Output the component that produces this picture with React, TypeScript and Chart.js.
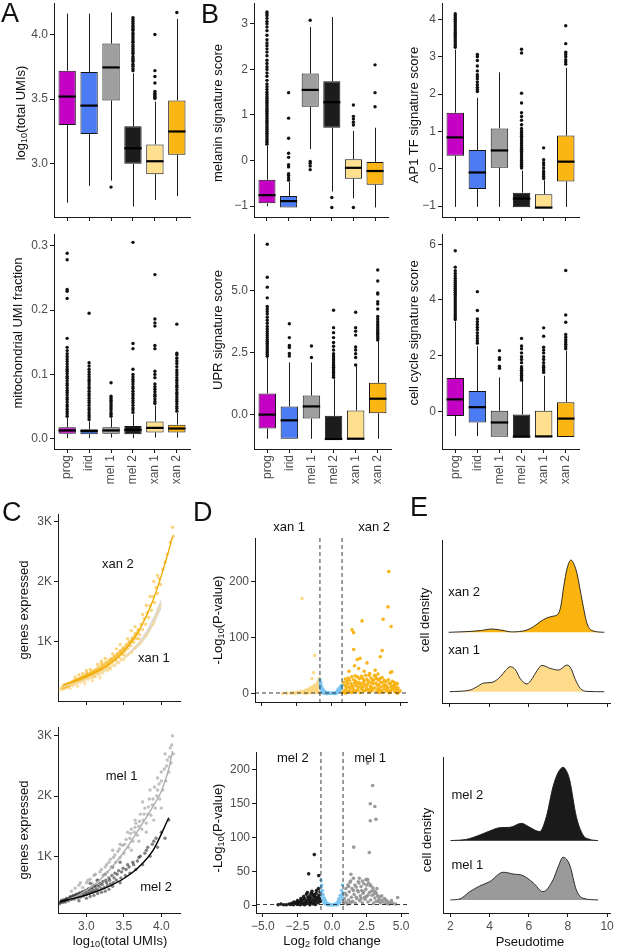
import React, { useEffect, useRef } from 'react';
import { Chart, registerables } from 'chart.js';

Chart.register(...registerables);
const FONT = '"Liberation Sans", Arial, Helvetica, sans-serif';
Chart.defaults.font.family = FONT;

// ---------------- data ----------------
const groups = ['prog', 'irid', 'mel 1', 'mel 2', 'xan 1', 'xan 2'];
const groupColors = ['#C400C4', '#4C7CF4', '#9F9F9F', '#1C1C1C', '#FFE08F', '#FCB614'];

// A: log10(total UMIs)
const umiQ1 = [3.30, 3.23, 3.49, 3.00, 2.92, 3.07];
const umiMed = [3.52, 3.45, 3.745, 3.12, 3.02, 3.25];
const umiQ3 = [3.72, 3.71, 3.93, 3.29, 3.15, 3.49];
const umiLo = [2.70, 2.83, 2.87, 2.67, 2.72, 2.75];
const umiHi = [4.16, 4.16, 4.17, 3.70, 3.48, 4.12];
const umiOut = [
  [], [], [2.82],
  [3.72, 3.735, 3.755, 3.77, 3.79, 3.80, 3.815, 3.83, 3.85, 3.86, 3.875, 3.89, 3.905, 3.92, 3.94, 3.95, 3.965, 3.98, 3.995, 4.01, 4.03, 4.04, 4.055, 4.07, 4.085, 4.10, 4.115, 4.13],
  [3.505, 3.515, 3.525, 3.535, 3.545, 3.56, 3.625, 3.675, 3.72, 4.0],
  [4.17],
];

// A: mitochondrial UMI fraction
const mitoQ1 = [0.008, 0.007, 0.008, 0.007, 0.010, 0.010];
const mitoMed = [0.013, 0.012, 0.013, 0.014, 0.017, 0.016];
const mitoQ3 = [0.018, 0.015, 0.018, 0.020, 0.027, 0.022];
const mitoLo = [0.001, 0.001, 0.002, 0.001, 0.002, 0.002];
const mitoHi = [0.033, 0.027, 0.032, 0.038, 0.052, 0.040];
const mitoOut = [
  [0.035, 0.039, 0.042, 0.046, 0.05, 0.053, 0.057, 0.061, 0.064, 0.068, 0.072, 0.075, 0.079, 0.083, 0.086, 0.09, 0.094, 0.097, 0.101, 0.105, 0.108, 0.112, 0.116, 0.12, 0.124, 0.128, 0.132, 0.137, 0.142, 0.156, 0.218, 0.229, 0.232, 0.278, 0.288],
  [0.03, 0.034, 0.037, 0.041, 0.045, 0.048, 0.052, 0.056, 0.059, 0.063, 0.067, 0.07, 0.074, 0.078, 0.081, 0.085, 0.089, 0.092, 0.096, 0.1, 0.104, 0.108, 0.113, 0.118, 0.195],
  [0.035, 0.038, 0.041, 0.045, 0.048, 0.051, 0.054, 0.057, 0.06, 0.063, 0.066, 0.087],
  [0.041, 0.045, 0.048, 0.052, 0.056, 0.059, 0.063, 0.067, 0.07, 0.074, 0.078, 0.081, 0.085, 0.089, 0.092, 0.096, 0.1, 0.108, 0.14, 0.148, 0.305],
  [0.055, 0.058, 0.062, 0.066, 0.069, 0.073, 0.077, 0.081, 0.085, 0.095, 0.1, 0.105, 0.14, 0.145, 0.175, 0.18, 0.186, 0.255],
  [0.043, 0.047, 0.05, 0.054, 0.058, 0.061, 0.065, 0.069, 0.072, 0.076, 0.08, 0.083, 0.087, 0.091, 0.095, 0.099, 0.103, 0.107, 0.112, 0.117, 0.121, 0.125, 0.13, 0.133, 0.178],
];

// B: melanin signature score
const melQ1 = [-0.94, -1.03, 1.18, 0.72, -0.40, -0.53];
const melMed = [-0.76, -0.89, 1.55, 1.28, -0.16, -0.23];
const melQ3 = [-0.42, -0.78, 1.91, 1.74, 0.03, -0.03];
const melLo = [-1.00, -1.03, 0.25, -0.68, -0.83, -1.03];
const melHi = [0.32, -0.47, 2.93, 3.15, 0.65, 0.72];
const melOut = [
  [0.36, 0.4, 0.44, 0.48, 0.52, 0.56, 0.6, 0.64, 0.68, 0.72, 0.76, 0.8, 0.84, 0.88, 0.92, 0.96, 1.0, 1.04, 1.08, 1.12, 1.16, 1.2, 1.24, 1.28, 1.32, 1.36, 1.4, 1.45, 1.5, 1.56, 1.62, 1.68, 1.76, 1.85, 1.92, 2.0, 2.06, 2.13, 2.2, 2.3, 2.38, 2.45, 2.52, 2.58, 2.65, 2.75, 2.85, 2.93, 3.0, 3.05, 3.12, 3.18, 3.22, 3.26],
  [-0.43, -0.38, -0.33, -0.29, -0.14, -0.09, 0.07, 0.16, 0.49, 0.93, 1.49],
  [-0.02, -0.06, -0.12, -0.2, 3.08],
  [-0.81, -1.03],
  [0.78, 0.84, 0.91, 0.97, 1.22, -1.03],
  [1.18, 1.49, 2.1],
];

// B: AP1 TF signature score
const ap1Q1 = [0.35, -0.54, 0.03, -1.03, -1.06, -0.34];
const ap1Med = [0.84, -0.10, 0.49, -0.80, -1.04, 0.19];
const ap1Q3 = [1.50, 0.50, 1.08, -0.64, -0.68, 0.89];
const ap1Lo = [-1.02, -1.02, -1.02, -1.03, -1.06, -1.02];
const ap1Hi = [3.19, 1.90, 2.58, -0.05, -0.31, 2.70];
const ap1Out = [
  [3.25, 3.3, 3.35, 3.4, 3.45, 3.5, 3.55, 3.6, 3.65, 3.7, 3.75, 3.8, 3.85, 3.9, 3.95, 4.0, 4.05, 4.1, 4.15],
  [2.07, 2.12, 2.18, 2.25, 2.32, 2.4, 2.46, 2.52, 2.62, 2.75, 2.9, 3.0, 3.06],
  [],
  [0.02, 0.07, 0.12, 0.17, 0.22, 0.27, 0.32, 0.37, 0.42, 0.47, 0.52, 0.57, 0.62, 0.67, 0.72, 0.77, 0.82, 0.87, 0.92, 0.97, 1.02, 1.08, 1.18, 1.3, 1.4, 1.5, 1.76, 2.02, 3.1, 3.2],
  [-0.26, -0.21, -0.16, -0.11, -0.06, 0.02, 0.1, 0.16, 0.24, 0.56],
  [2.8, 2.86, 2.92, 3.0, 3.06, 3.12, 3.35, 3.83],
];

// B: UPR signature score
const uprQ1 = [-0.56, -0.97, -0.16, -1.0, -1.0, 0.05];
const uprMed = [0.0, -0.23, 0.33, -0.98, -0.97, 0.64];
const uprQ3 = [0.85, 0.33, 0.77, -0.05, 0.17, 1.28];
const uprLo = [-0.97, -0.97, -0.97, -1.0, -1.0, -0.97];
const uprHi = [2.3, 2.1, 2.1, 1.45, 1.95, 2.95];
const uprOut = [
  [2.35, 2.42, 2.5, 2.57, 2.64, 2.72, 2.8, 2.87, 2.95, 3.02, 3.1, 3.18, 3.26, 3.35, 3.45, 3.55, 3.68, 3.8, 3.92, 4.05, 4.15, 4.25, 4.35, 4.7, 5.13, 5.53, 6.86],
  [2.36, 2.46, 2.7, 2.78, 3.1, 3.66],
  [2.3, 2.76],
  [1.5, 1.56, 1.63, 1.7, 1.77, 1.84, 1.91, 1.98, 2.05, 2.12, 2.2, 2.28, 2.36, 2.45, 2.6, 2.75, 2.9, 3.1, 3.3, 3.5, 4.2],
  [2.0, 2.3, 2.45, 2.6, 2.72, 3.2, 3.36, 3.5, 4.12],
  [3.0, 3.07, 3.14, 3.21, 3.28, 3.35, 3.42, 3.5, 3.58, 3.66, 3.75, 3.85, 3.95, 4.25, 4.45, 4.55, 4.85, 4.9, 5.38, 5.82],
];

// B: cell cycle signature score
const ccQ1 = [-0.17, -0.40, -0.91, -0.92, -0.92, -0.92];
const ccMed = [0.43, 0.15, -0.40, -0.91, -0.90, -0.26];
const ccQ3 = [1.20, 0.73, 0.02, -0.11, 0.02, 0.33];
const ccLo = [-0.89, -0.89, -0.91, -0.92, -0.92, -0.92];
const ccHi = [3.23, 2.34, 1.22, 1.10, 1.28, 2.17];
const ccOut = [
  [3.3, 3.37, 3.44, 3.51, 3.58, 3.65, 3.72, 3.79, 3.86, 3.93, 4.0, 4.07, 4.14, 4.21, 4.28, 4.35, 4.42, 4.49, 4.56, 4.63, 4.7, 4.78, 4.86, 4.95, 5.05, 5.18, 5.77],
  [2.45, 2.53, 2.62, 2.72, 2.82, 2.93, 3.02, 3.12, 3.22, 3.32, 3.62, 4.3],
  [1.55, 1.62, 1.86, 1.93, 2.18],
  [1.12, 1.18, 1.24, 1.3, 1.36, 1.42, 1.48, 1.54, 1.6, 1.75, 1.86, 1.96, 2.1, 2.25, 2.35, 2.62],
  [1.4, 1.46, 1.52, 1.58, 1.64, 1.75, 1.86, 1.96, 2.1, 2.2, 2.3, 2.7, 3.0],
  [2.25, 2.33, 2.41, 2.49, 2.57, 2.66, 2.76, 3.2, 3.46, 5.06],
];

// C: genes expressed vs log10(total UMIs)
const xan2Cells = [[2.68,230],[2.70,260],[2.72,290],[2.74,250],[2.76,310],[2.78,280],[2.80,330],[2.81,300],[2.83,350],[2.85,320],[2.86,370],[2.88,340],[2.90,390],[2.91,360],[2.93,410],[2.95,380],[2.96,430],[2.98,400],[3.00,450],[3.01,420],[3.03,470],[3.05,440],[3.06,500],[3.08,460],[3.10,520],[3.11,480],[3.13,540],[3.15,500],[3.16,570],[3.18,530],[3.20,600],[3.21,550],[3.23,630],[3.25,580],[3.26,660],[3.28,610],[3.30,690],[3.31,640],[3.33,720],[3.35,670],[3.37,760],[3.39,700],[3.41,800],[3.43,740],[3.45,850],[3.47,790],[3.49,900],[3.51,840],[3.53,950],[3.55,880],[3.57,1000],[3.59,930],[3.61,1060],[3.63,990],[3.65,1130],[3.67,1050],[3.69,1200],[3.71,1120],[3.73,1290],[3.75,1200],[3.77,1380],[3.79,1290],[3.81,1480],[3.83,1400],[3.85,1600],[3.87,1520],[3.89,1750],[3.91,1650],[3.93,1900],[3.95,1800],[3.97,2050],[3.99,1950],[4.02,2200],[4.05,2320],[4.08,2450],[4.12,2650],[4.15,2900],[4.16,2750],[3.0,520],[3.2,680],[3.4,880],[3.6,1180],[3.8,1600],[3.9,2000],[3.95,2100],[3.1,420],[3.3,560],[3.5,780],[3.7,1050],[2.9,450],[3.35,800],[3.55,1050],[3.75,1450],[2.71,240],[2.73,275],[2.75,265],[2.77,295],[2.79,305],[2.82,315],[2.84,335],[2.87,355],[2.89,365],[2.92,375],[2.94,395],[2.97,415],[2.99,435],[3.02,445],[3.04,455],[3.07,485],[3.09,495],[3.12,505],[3.14,525],[3.17,545],[3.19,565],[3.22,585],[3.24,605],[3.27,635],[3.29,655],[3.32,685],[3.34,705],[3.36,725],[3.38,745],[3.40,765],[3.42,790],[3.44,815],[3.46,835],[3.48,860],[3.50,880],[3.52,905],[3.54,930],[3.56,960],[3.58,985],[3.60,1020],[3.62,1040],[3.64,1080],[3.66,1110],[3.68,1150],[3.70,1180],[2.95,470],[3.05,540],[3.15,620],[3.25,720],[3.45,950],[3.65,1250],[3.85,1750],[2.85,410],[3.0,480],[3.2,640]];
const xan1Cells = [[2.65,200],[2.67,240],[2.69,210],[2.70,280],[2.72,230],[2.74,260],[2.75,300],[2.77,250],[2.79,290],[2.80,320],[2.82,270],[2.84,310],[2.85,350],[2.87,300],[2.89,340],[2.90,370],[2.92,320],[2.94,360],[2.95,400],[2.97,340],[2.99,390],[3.00,420],[3.02,370],[3.04,410],[3.05,450],[3.07,400],[3.09,440],[3.10,480],[3.12,420],[3.14,470],[3.15,510],[3.17,450],[3.19,500],[3.20,540],[3.22,480],[3.24,530],[3.26,570],[3.28,520],[3.30,600],[3.32,550],[3.35,620],[3.38,600],[3.40,680],[3.43,650],[3.46,720],[3.50,700],[3.55,780],[3.60,820],[3.65,900],[3.72,980],[3.80,1100],[3.90,1300],[2.78,220],[2.88,260],[2.98,300],[3.08,350],[3.18,400]];
const mel2Cells = [[2.64,210],[2.66,250],[2.68,230],[2.70,280],[2.72,240],[2.74,300],[2.76,260],[2.78,320],[2.80,280],[2.82,340],[2.84,290],[2.86,360],[2.88,310],[2.90,380],[2.92,320],[2.94,400],[2.96,340],[2.98,420],[3.00,360],[3.02,450],[3.04,380],[3.06,470],[3.08,400],[3.10,500],[3.12,420],[3.14,520],[3.16,440],[3.18,550],[3.20,460],[3.22,580],[3.24,480],[3.26,600],[3.28,510],[3.30,640],[3.32,540],[3.34,680],[3.36,560],[3.38,720],[3.40,600],[3.43,760],[3.46,640],[3.49,800],[3.52,680],[3.55,860],[3.58,720],[3.62,900],[3.66,780],[3.70,980],[3.75,860],[3.80,1100],[3.85,1000],[3.90,1250],[3.95,1150],[4.00,1400],[4.05,1300],[4.10,1600],[3.00,300],[3.10,350],[3.20,400],[3.30,450],[2.90,260],[3.05,330],[3.15,380],[3.25,420],[3.35,500],[3.45,560],[3.15,600],[3.25,700],[3.35,820],[3.45,900],[3.05,550],[2.65,230],[2.67,270],[2.69,250],[2.71,260],[2.73,290],[2.75,280],[2.77,300],[2.79,330],[2.81,310],[2.83,350],[2.85,330],[2.87,370],[2.89,350],[2.91,390],[2.93,370],[2.95,410],[2.97,380],[2.99,430],[3.01,400],[3.03,460],[3.05,420],[3.07,480],[3.09,440],[3.11,510],[3.13,460],[3.17,500],[3.21,530],[3.27,560],[3.31,600],[3.37,640],[3.41,700],[3.47,740],[3.53,780],[3.57,820],[3.63,860],[3.68,920],[3.72,1000],[3.78,1050],[3.82,1150],[3.88,1200],[3.93,1300]];
const mel1Cells = [[2.80,420],[2.85,470],[2.90,520],[2.95,480],[3.00,560],[3.05,620],[3.08,540],[3.10,680],[3.14,600],[3.18,740],[3.22,680],[3.25,820],[3.28,740],[3.30,900],[3.33,820],[3.36,980],[3.39,900],[3.42,1080],[3.45,980],[3.48,1180],[3.50,1050],[3.53,1280],[3.56,1150],[3.59,1380],[3.62,1250],[3.65,1480],[3.68,1350],[3.71,1580],[3.74,1450],[3.77,1700],[3.80,1550],[3.83,1820],[3.86,1680],[3.89,1950],[3.92,1800],[3.95,2100],[3.98,1950],[4.00,2250],[4.02,2100],[4.04,2450],[4.06,2250],[4.08,2600],[4.10,2400],[4.12,2800],[4.13,2550],[4.15,3000],[4.16,2700],[3.60,1100],[3.70,1250],[3.80,1400],[3.90,1600],[4.00,1800],[3.75,1900],[3.85,2100],[3.95,2300],[4.05,2700],[3.55,1400],[3.65,1600],[3.45,1200],[3.35,1100],[2.92,560],[3.02,600],[3.12,700],[3.2,780],[3.27,860],[3.32,950],[3.38,1020],[3.44,1120],[3.51,1200],[3.58,1300],[3.64,1400],[3.7,1500],[3.76,1600],[3.82,1700],[3.88,1850],[3.94,2000],[4.0,2400],[4.07,2500],[4.11,2650],[4.14,2850],[3.97,2200],[3.91,2150],[3.84,1950],[3.78,1800],[3.72,1700],[3.66,1550],[3.6,1450]];
const xan2FitX = [2.68, 2.9, 3.1, 3.3, 3.5, 3.7, 3.9, 4.05, 4.15];
const xan2FitY = [270, 380, 480, 620, 840, 1180, 1720, 2300, 2740];
const xan1FitX = [2.68, 2.9, 3.1, 3.3, 3.5, 3.7, 3.85, 4.0];
const xan1FitY = [250, 330, 430, 560, 720, 950, 1200, 1620];
const xan1BandX = [3.5, 3.6, 3.7, 3.8, 3.9, 4.0];
const xan1BandLo = [700, 810, 920, 1070, 1280, 1540];
const xan1BandHi = [740, 870, 1000, 1180, 1420, 1720];
const mel1FitX = [2.75, 2.9, 3.1, 3.3, 3.5, 3.7, 3.9, 4.0, 4.1, 4.15];
const mel1FitY = [280, 360, 520, 760, 1070, 1450, 1850, 2080, 2450, 2750];
const mel2FitX = [2.65, 2.9, 3.1, 3.3, 3.5, 3.7, 3.9, 4.1];
const mel2FitY = [250, 320, 400, 500, 630, 820, 1120, 1640];

// D: volcano plots (log2 fold change, -log10 P)
const dTopLeft = [[-2.9,1],[-2.7,2],[-2.5,1.5],[-2.4,3],[-2.3,2],[-2.2,4],[-2.1,2.5],[-2.0,3.5],[-1.9,5],[-1.85,2],[-1.8,6],[-1.7,4],[-1.65,8],[-1.6,3],[-1.55,6],[-1.5,10],[-1.45,5],[-1.4,7],[-1.35,12],[-1.3,4],[-1.25,9],[-1.2,15],[-1.15,6],[-1.1,11],[-1.05,8],[-1.0,18],[-0.98,5],[-0.95,13],[-0.92,22],[-0.9,9],[-0.88,16],[-0.86,27],[-0.85,3],[-1.38,27],[-1.26,37.5],[-1.18,68],[-2.1,170],[-3.2,1],[-3.5,0.5],[-2.6,0.5],[-1.95,1],[-1.75,1],[-1.5,1.5],[-1.2,2],[-1.0,2]];
const dTopMid = [[-0.8,25],[-0.78,18],[-0.76,12],[-0.74,20],[-0.72,8],[-0.7,14],[-0.67,5],[-0.64,10],[-0.6,3],[-0.56,7],[-0.52,2],[-0.48,4],[-0.44,1.5],[-0.4,3],[-0.35,1],[-0.3,2],[-0.25,0.5],[-0.2,1.5],[-0.15,0.5],[-0.1,1],[0,0.5],[0.1,1],[0.2,0.5],[0.3,2],[0.4,1],[0.45,4],[0.5,7],[0.55,3],[0.6,10],[0.65,6],[0.7,13],[0.75,9],[0.78,15],[-0.3,0.2],[0.25,0.2],[-0.55,1],[0.35,0.5]];
const dTopRight = [[0.85,2],[0.95,5],[1.05,1],[1.1,8],[1.2,3],[1.3,12],[1.35,5],[1.45,18],[1.5,2],[1.6,9],[1.65,25],[1.75,4],[1.8,14],[1.9,30],[1.95,7],[2.05,20],[2.1,2],[2.2,11],[2.3,27],[2.35,5],[2.45,16],[2.5,33],[2.6,8],[2.7,22],[2.75,3],[2.85,13],[2.9,28],[3.0,6],[3.05,18],[3.15,10],[3.2,31],[3.3,4],[3.35,15],[3.45,24],[3.5,7],[3.6,12],[3.7,20],[3.75,3],[3.85,9],[3.9,16],[4.0,5],[4.1,11],[4.2,19],[4.3,3],[4.4,8],[4.5,14],[4.6,4],[4.75,7],[4.9,3],[1.0,15],[1.15,22],[1.25,28],[1.4,10],[1.55,14],[1.7,19],[1.85,6],[2.0,12],[2.15,17],[2.25,8],[2.4,23],[2.55,12],[2.65,17],[2.8,8],[2.95,11],[3.1,25],[3.25,19],[3.4,9],[3.55,27],[3.65,5],[3.8,14],[3.95,22],[4.05,9],[4.25,6],[4.35,13],[4.55,9],[4.7,12],[1.52,114],[1.64,109],[1.64,79],[1.7,50],[1.9,61],[2.1,63],[2.25,130],[2.0,45],[2.4,40],[2.6,55],[3.2,42],[3.57,66],[3.7,77],[3.77,133],[4.13,155],[4.18,218],[4.35,120],[4.4,39],[4.3,38],[3.4,35],[2.8,36],[1.3,40],[4.6,20],[4.8,18],[0.9,20],[1.05,26],[1.2,18],[1.35,24],[1.5,30],[1.6,4],[1.75,32],[1.9,18],[2.05,27],[2.2,31],[2.35,20],[2.5,6],[2.6,26],[2.75,33],[2.9,19],[3.0,24],[3.15,33],[3.3,27],[3.45,16],[3.6,20],[3.7,29],[3.85,24],[4.0,14],[4.15,25],[4.3,18],[4.45,22],[4.6,15],[4.85,10],[5.0,5],[1.1,12],[1.8,22],[2.3,13],[2.9,5],[3.5,2],[4.2,2],[4.8,1]];
const dBotLeft = [[-3.9,1],[-3.7,2],[-3.3,1],[-3.1,2],[-3.0,1.5],[-2.9,3],[-2.8,1],[-2.7,2.5],[-2.6,4],[-2.5,1.5],[-2.45,5],[-2.4,3],[-2.3,6],[-2.2,2],[-2.15,8],[-2.1,4],[-2.0,10],[-1.95,3],[-1.9,7],[-1.85,16.5],[-1.8,5],[-1.75,12],[-1.7,9],[-1.65,3],[-1.6,14],[-1.55,6],[-1.5,11],[-1.45,4],[-1.4,16],[-1.35,8],[-1.3,13],[-1.25,5],[-1.2,10],[-1.15,18],[-1.1,7],[-1.05,12],[-1.0,4],[-0.95,15],[-0.9,9],[-0.87,20],[-0.85,6],[-1.28,75],[-1.69,46.6],[-0.96,44],[-1.3,16],[-1.5,18],[-2.3,1],[-2.0,1],[-1.2,1.5],[-3.5,1],[-2.75,5],[-2.5,7],[-2.25,10],[-2.05,13],[-1.9,2],[-1.78,19],[-1.62,8],[-1.45,21],[-1.25,14],[-1.12,22],[-0.98,25],[-0.92,11],[-1.35,2],[-1.6,1]];
const dBotMid = [[-0.8,37],[-0.78,28],[-0.76,20],[-0.74,30],[-0.72,14],[-0.7,22],[-0.67,9],[-0.64,16],[-0.6,5],[-0.56,11],[-0.52,3],[-0.48,7],[-0.44,2],[-0.4,4],[-0.35,1],[-0.3,2.5],[-0.25,0.5],[-0.2,1.5],[-0.1,0.5],[0,1],[0.1,0.5],[0.2,1.5],[0.3,0.5],[0.35,3],[0.4,1],[0.45,6],[0.5,10],[0.55,4],[0.6,15],[0.65,8],[0.7,22],[0.73,12],[0.76,30],[0.78,18]];
const dBotRight = [[0.85,3],[0.9,10],[1.0,5],[1.05,15],[1.1,2],[1.2,8],[1.25,20],[1.3,4],[1.4,12],[1.45,25],[1.5,6],[1.6,16],[1.65,30],[1.7,3],[1.8,10],[1.85,22],[1.9,35],[2.0,7],[2.05,14],[2.1,28],[2.2,4],[2.25,18],[2.3,32],[2.4,9],[2.45,24],[2.5,13],[2.55,38],[2.6,5],[2.7,19],[2.75,29],[2.8,8],[2.9,15],[2.95,26],[3.0,3],[3.1,11],[3.15,20],[3.2,6],[3.3,14],[3.4,9],[3.45,12.6],[3.5,4],[3.6,8],[3.7,5],[3.8,10],[3.9,3],[4.0,6],[4.2,4],[4.4,3],[4.75,11.7],[4.6,2],[1.0,25],[1.15,30],[1.35,36],[1.55,40],[1.75,27],[1.95,33],[2.15,22],[2.35,12],[2.65,33],[2.85,21],[3.05,17],[3.25,25],[1.37,46],[1.98,40],[2.46,38],[2.58,38],[1.57,86],[2.7,78],[2.77,125],[3.18,127],[2.77,150],[3.1,146],[2.94,177],[2.58,210],[0.95,18],[1.2,28],[1.4,5],[1.55,22],[1.75,12],[1.9,20],[2.1,10],[2.3,20],[2.5,30],[2.6,15],[2.8,30],[3.0,22],[3.2,18],[3.35,6],[3.6,14],[3.9,8],[4.1,2],[4.3,7],[1.3,34],[2.2,36]];

// E: pseudotime densities
const xan2DensX = [1.95, 2.88, 3.56, 4.15, 4.66, 5.17, 5.93, 6.27, 6.61, 6.95, 7.29, 7.5, 7.65, 7.8, 7.97, 8.17, 8.34, 8.47, 8.73, 8.98, 9.24, 9.86];
const xan2DensH = [0, 0.012, 0.029, 0.056, 0.034, 0.007, 0.039, 0.096, 0.18, 0.244, 0.274, 0.303, 0.438, 0.774, 1.077, 1.217, 1.128, 0.993, 0.539, 0.152, 0.029, 0];
const xan1DensX = [2.0, 3.05, 3.47, 3.73, 4.15, 4.58, 4.83, 5.08, 5.34, 5.59, 5.93, 6.19, 6.44, 6.69, 7.12, 7.54, 7.97, 8.17, 8.39, 8.64, 8.98, 9.86];
const xan1DensH = [0, 0.029, 0.101, 0.146, 0.157, 0.253, 0.354, 0.421, 0.37, 0.219, 0.13, 0.219, 0.354, 0.443, 0.392, 0.365, 0.449, 0.387, 0.202, 0.056, 0.005, 0];
const mel2DensX = [2.0, 2.82, 3.5, 4.01, 4.52, 5.03, 5.63, 6.05, 6.56, 6.9, 7.24, 7.5, 7.75, 7.92, 8.09, 8.43, 8.77, 9.11, 9.54];
const mel2DensH = [0, 0.022, 0.096, 0.164, 0.219, 0.224, 0.292, 0.224, 0.152, 0.405, 0.911, 1.147, 1.236, 1.18, 1.024, 0.405, 0.096, 0.022, 0];
const mel1DensX = [2.0, 2.48, 2.99, 3.5, 4.01, 4.69, 5.2, 5.71, 6.22, 6.73, 7.24, 7.5, 7.75, 8.09, 8.43, 8.77, 9.54];
const mel1DensH = [0, 0.017, 0.14, 0.236, 0.309, 0.467, 0.438, 0.41, 0.292, 0.14, 0.337, 0.556, 0.72, 0.59, 0.169, 0.029, 0];

// tick values
const umiTicks = [3.0, 3.5, 4.0];
const mitoTicks = [0, 0.1, 0.2, 0.3];
const melTicks = [-1, 0, 1, 2, 3];
const ap1Ticks = [-1, 0, 1, 2, 3, 4];
const uprTicks = [0, 2.5, 5];
const ccTicks = [0, 2, 4, 6];
const genesTicks = [1000, 2000, 3000];
const umiXTicks = [3.0, 3.5, 4.0];
const volcTopYTicks = [0, 100, 200];
const volcBotYTicks = [0, 50, 100, 150, 200];
const foldTicks = [-5, -2.5, 0, 2.5, 5];
const pseudoTicks = [2, 4, 6, 8, 10];

// ---------------- helpers ----------------
const TICK_FONT = { family: FONT, size: 12 };
const TICK_COLOR = '#4d4d4d';
const AXIS_COLOR = '#1a1a1a';
const minus = (s: string) => s.replace('-', '\u2212');
const fmt1 = (v: number) => minus(v.toFixed(1));
const fmt0 = (v: number) => minus(String(Math.round(v)));
const none = (_v: number) => '';

type AxisOpts = { min: number; max: number; ticks: number[]; fmt: (v: number) => string; size: number; horizontal: boolean; rotate?: boolean; marks?: boolean };

function linAxis(o: AxisOpts): any {
  return {
    type: 'linear', min: o.min, max: o.max, offset: false,
    afterBuildTicks: (s: any) => { s.ticks = o.ticks.map((v) => ({ value: v })); },
    afterFit: (s: any) => {
      if (o.horizontal) s.height = o.size; else s.width = o.size;
      s.paddingLeft = 0; s.paddingRight = 0; s.paddingTop = 0; s.paddingBottom = 0;
    },
    ticks: {
      autoSkip: false, font: TICK_FONT, color: TICK_COLOR, padding: 2,
      display: o.ticks.length > 0,
      callback: (v: any) => o.fmt(Number(v)),
      minRotation: o.rotate ? 90 : 0, maxRotation: o.rotate ? 90 : 0,
    },
    grid: { display: true, offset: false, drawOnChartArea: false, drawTicks: o.marks !== false, tickLength: 4, tickColor: AXIS_COLOR, tickWidth: 1 },
    border: { display: true, color: AXIS_COLOR, width: 1 },
  };
}

const baseOptions = () => ({
  responsive: false, animation: false, devicePixelRatio: 1, events: [] as any[],
  plugins: { legend: { display: false }, tooltip: { enabled: false }, title: { display: false } },
});

type Lbl = { x: number; y: number; text: string; align?: CanvasTextAlign };
function textPlugin(items: Lbl[]) {
  return {
    id: 'labels',
    afterDraw(chart: any) {
      const { ctx, scales } = chart;
      ctx.save();
      ctx.font = `13px ${FONT}`;
      ctx.fillStyle = '#111';
      ctx.textBaseline = 'middle';
      for (const it of items) {
        ctx.textAlign = it.align || 'center';
        ctx.fillText(it.text, scales.x.getPixelForValue(it.x), scales.y.getPixelForValue(it.y));
      }
      ctx.restore();
    },
  };
}

type BoxStats = { q1: number[]; med: number[]; q3: number[]; lo: number[]; hi: number[]; out: number[][] };

function boxPlugin(s: BoxStats) {
  return {
    id: 'boxExtras',
    beforeDatasetsDraw(chart: any) {
      const { ctx, scales: { x, y } } = chart;
      ctx.save();
      ctx.strokeStyle = '#1a1a1a';
      ctx.lineWidth = 1;
      s.q1.forEach((_, i) => {
        const px = Math.round(x.getPixelForValue(i + 1)) + 0.5;
        ctx.beginPath();
        ctx.moveTo(px, y.getPixelForValue(s.lo[i]));
        ctx.lineTo(px, y.getPixelForValue(s.q1[i]));
        ctx.moveTo(px, y.getPixelForValue(s.q3[i]));
        ctx.lineTo(px, y.getPixelForValue(s.hi[i]));
        ctx.stroke();
      });
      ctx.restore();
    },
    afterDatasetsDraw(chart: any) {
      const { ctx, scales: { y } } = chart;
      const meta = chart.getDatasetMeta(0);
      ctx.save();
      ctx.strokeStyle = '#000';
      ctx.lineWidth = 2.2;
      s.med.forEach((m, i) => {
        const el = meta.data[i];
        const py = y.getPixelForValue(m);
        ctx.beginPath();
        ctx.moveTo(el.x - el.width / 2, py);
        ctx.lineTo(el.x + el.width / 2, py);
        ctx.stroke();
      });
      ctx.restore();
    },
  };
}

function boxConfig(s: BoxStats, yMin: number, yMax: number, yTicks: number[], yFmt: (v: number) => string, yw: number, showX: boolean, xh: number) {
  const outliers: { x: number; y: number }[] = [];
  s.out.forEach((arr, i) => arr.forEach((v) => outliers.push({ x: i + 1, y: v })));
  return {
    type: 'bar',
    data: {
      datasets: [
        {
          type: 'bar', order: 1,
          data: groups.map((_, i) => ({ x: i + 1, y: [s.q1[i], s.q3[i]] })),
          backgroundColor: groupColors, borderColor: '#141414', borderWidth: 1, borderSkipped: false,
          barPercentage: 0.79, categoryPercentage: 1,
        },
        {
          type: 'scatter', order: 0, data: outliers,
          pointRadius: 1.7, pointBackgroundColor: '#111', pointBorderWidth: 0, showLine: false,
        },
      ],
    },
    options: {
      ...baseOptions(),
      scales: {
        x: linAxis({ min: 0.4, max: 6.6, ticks: [1, 2, 3, 4, 5, 6], fmt: showX ? (v) => groups[v - 1] : none, size: xh, horizontal: true, rotate: showX }),
        y: linAxis({ min: yMin, max: yMax, ticks: yTicks, fmt: yFmt, size: yw, horizontal: false }),
      },
    },
    plugins: [boxPlugin(s)],
  };
}

const pts = (arr: number[][]) => arr.map(([x, y]) => ({ x, y }));
const xy = (xs: number[], ys: number[]) => xs.map((x, i) => ({ x, y: ys[i] }));

function cConfig(top: boolean) {
  const kfmt = (v: number) => `${Math.round(v / 1000)}K`;
  const datasets: any[] = top
    ? [
        { type: 'line', order: 9, data: xy(xan1BandX, xan1BandHi), borderWidth: 0, pointRadius: 0, fill: '+1', backgroundColor: 'rgba(185,185,185,0.55)' },
        { type: 'line', order: 9, data: xy(xan1BandX, xan1BandLo), borderWidth: 0, pointRadius: 0, fill: false },
        { type: 'scatter', order: 6, data: pts(xan1Cells), pointRadius: 1.7, pointBorderWidth: 0, pointBackgroundColor: 'rgba(252,212,128,0.7)' },
        { type: 'scatter', order: 5, data: pts(xan2Cells), pointRadius: 1.7, pointBorderWidth: 0, pointBackgroundColor: 'rgba(245,176,20,0.55)' },
        { type: 'line', order: 1, data: xy(xan1FitX, xan1FitY), borderColor: '#F1D9A0', borderWidth: 1.4, pointRadius: 0, cubicInterpolationMode: 'monotone', fill: false },
        { type: 'line', order: 0, data: xy(xan2FitX, xan2FitY), borderColor: '#F0AC00', borderWidth: 1.4, pointRadius: 0, cubicInterpolationMode: 'monotone', fill: false },
      ]
    : [
        { type: 'scatter', order: 6, data: pts(mel1Cells), pointRadius: 1.7, pointBorderWidth: 0, pointBackgroundColor: 'rgba(150,150,150,0.6)' },
        { type: 'scatter', order: 5, data: pts(mel2Cells), pointRadius: 1.7, pointBorderWidth: 0, pointBackgroundColor: 'rgba(30,30,30,0.55)' },
        { type: 'line', order: 1, data: xy(mel1FitX, mel1FitY), borderColor: '#B0B0B0', borderWidth: 1.4, pointRadius: 0, cubicInterpolationMode: 'monotone', fill: false },
        { type: 'line', order: 0, data: xy(mel2FitX, mel2FitY), borderColor: '#000', borderWidth: 1.4, pointRadius: 0, cubicInterpolationMode: 'monotone', fill: false },
      ];
  const labels: Lbl[] = top
    ? [{ x: 3.42, y: 2280, text: 'xan 2' }, { x: 3.9, y: 720, text: 'xan 1' }]
    : [{ x: 3.47, y: 2325, text: 'mel 1' }, { x: 3.93, y: 490, text: 'mel 2' }];
  return {
    type: 'scatter',
    data: { datasets },
    options: {
      ...baseOptions(),
      scales: {
        x: linAxis({ min: 2.62, max: 4.25, ticks: umiXTicks, fmt: top ? none : fmt1, size: top ? 5 : 22, horizontal: true }),
        y: linAxis({ min: top ? 14 : 57, max: top ? 3120 : 3147, ticks: genesTicks, fmt: kfmt, size: 30, horizontal: false }),
      },
    },
    plugins: [textPlugin(labels)],
  };
}

function dashPlugin() {
  return {
    id: 'dash',
    afterDatasetsDraw(chart: any) {
      const { ctx, chartArea: a, scales: { x, y } } = chart;
      ctx.save();
      ctx.strokeStyle = '#222';
      ctx.lineWidth = 0.9;
      ctx.setLineDash([4, 3]);
      ctx.beginPath();
      for (const v of [-0.8, 0.8]) {
        const px = x.getPixelForValue(v);
        ctx.moveTo(px, a.top);
        ctx.lineTo(px, a.bottom);
      }
      const py = y.getPixelForValue(1.3);
      ctx.moveTo(a.left, py);
      ctx.lineTo(a.right, py);
      ctx.stroke();
      ctx.restore();
    },
  };
}

function dConfig(top: boolean) {
  const mk = (data: number[][], color: string, order: number) => ({ type: 'scatter', order, data: pts(data), pointRadius: 1.8, pointBorderWidth: 0, pointBackgroundColor: color });
  const datasets = top
    ? [mk(dTopLeft, 'rgba(252,214,128,0.9)', 2), mk(dTopMid, 'rgba(120,196,240,0.95)', 1), mk(dTopRight, 'rgba(248,178,16,0.95)', 3)]
    : [mk(dBotLeft, 'rgba(20,20,20,0.95)', 2), mk(dBotMid, 'rgba(120,196,240,0.95)', 1), mk(dBotRight, 'rgba(150,150,150,0.95)', 3)];
  const labels: Lbl[] = top
    ? [{ x: -3.03, y: 296, text: 'xan 1' }, { x: 3.12, y: 296, text: 'xan 2' }]
    : [{ x: -2.83, y: 216.6, text: 'mel 2' }, { x: 2.76, y: 216.6, text: 'mel 1' }];
  return {
    type: 'scatter',
    data: { datasets },
    options: {
      ...baseOptions(),
      scales: {
        x: linAxis({ min: -5.5, max: 5.5, ticks: foldTicks, fmt: top ? none : fmt1, size: top ? 5 : 22, horizontal: true }),
        y: top
          ? linAxis({ min: -14.8, max: 278, ticks: volcTopYTicks, fmt: fmt0, size: 30, horizontal: false })
          : linAxis({ min: -11.2, max: 226.4, ticks: volcBotYTicks, fmt: fmt0, size: 30, horizontal: false }),
      },
    },
    plugins: [dashPlugin(), textPlugin(labels)],
  };
}

function eConfig(top: boolean) {
  const ridge = (xs: number[], hs: number[], base: number, color: string, order: number) => ({
    type: 'line', order, data: xs.map((x, i) => ({ x, y: base + hs[i] })),
    borderColor: '#1a1a1a', borderWidth: 0.9, pointRadius: 0, cubicInterpolationMode: 'monotone',
    fill: { value: base }, backgroundColor: color,
  });
  const datasets = top
    ? [ridge(xan2DensX, xan2DensH, 2, '#FBB40F', 1), ridge(xan1DensX, xan1DensH, 1, '#FDDB8B', 0)]
    : [ridge(mel2DensX, mel2DensH, 2, '#1A1A1A', 1), ridge(mel1DensX, mel1DensH, 1, '#9A9A9A', 0)];
  const labels: Lbl[] = top
    ? [{ x: 1.93, y: 2.667, text: 'xan 2', align: 'left' }, { x: 1.93, y: 1.69, text: 'xan 1', align: 'left' }]
    : [{ x: 2.05, y: 2.76, text: 'mel 2', align: 'left' }, { x: 2.05, y: 1.59, text: 'mel 1', align: 'left' }];
  return {
    type: 'scatter',
    data: { datasets },
    options: {
      ...baseOptions(),
      scales: {
        x: linAxis({ min: top ? 1.61 : 1.62, max: 10.15, ticks: pseudoTicks, fmt: top ? none : fmt0, size: top ? 5 : 22, horizontal: true }),
        y: linAxis({ min: top ? 0.81 : 0.78, max: top ? 3.554 : 3.41, ticks: [], fmt: none, size: 10, horizontal: false, marks: false }),
      },
    },
    plugins: [textPlugin(labels)],
  };
}

// ---------------- components ----------------
type Rect = { L: number; T: number; R: number; B: number; yw: number; xh: number; padT?: number; padR?: number };

function ChartBox({ rect, make }: { rect: Rect; make: () => any }) {
  const ref = useRef<HTMLCanvasElement>(null);
  const padT = rect.padT ?? 2;
  const padR = rect.padR ?? 10;
  const left = rect.L - rect.yw;
  const top = rect.T - padT;
  const w = rect.R - rect.L + rect.yw + padR;
  const h = rect.B - rect.T + padT + rect.xh;
  useEffect(() => {
    const cfg = make();
    cfg.options.layout = { padding: { left: 0, top: padT, right: padR, bottom: 0 } };
    const chart = new Chart(ref.current as HTMLCanvasElement, cfg);
    return () => chart.destroy();
  }, []);
  return <canvas ref={ref} width={w} height={h} style={{ position: 'absolute', left, top, width: w, height: h }} />;
}

function Title({ x, y, rot = 0, size = 13, children }: { x: number; y: number; rot?: number; size?: number; children: any }) {
  return (
    <div style={{ position: 'absolute', left: x, top: y, transform: `translate(-50%, -50%) rotate(${rot}deg)`, fontFamily: FONT, fontSize: size, whiteSpace: 'nowrap', lineHeight: 1, color: '#111' }}>
      {children}
    </div>
  );
}

const Sub = ({ children }: { children: any }) => (
  <sub style={{ fontSize: '70%', verticalAlign: '-0.3em', lineHeight: 0 }}>{children}</sub>
);

function Letter({ x, y, children }: { x: number; y: number; children: any }) {
  return <div style={{ position: 'absolute', left: x, top: y, fontFamily: FONT, fontSize: 27, lineHeight: 1, color: '#111' }}>{children}</div>;
}

const umiStats: BoxStats = { q1: umiQ1, med: umiMed, q3: umiQ3, lo: umiLo, hi: umiHi, out: umiOut };
const mitoStats: BoxStats = { q1: mitoQ1, med: mitoMed, q3: mitoQ3, lo: mitoLo, hi: mitoHi, out: mitoOut };
const melStats: BoxStats = { q1: melQ1, med: melMed, q3: melQ3, lo: melLo, hi: melHi, out: melOut };
const ap1Stats: BoxStats = { q1: ap1Q1, med: ap1Med, q3: ap1Q3, lo: ap1Lo, hi: ap1Hi, out: ap1Out };
const uprStats: BoxStats = { q1: uprQ1, med: uprMed, q3: uprQ3, lo: uprLo, hi: uprHi, out: uprOut };
const ccStats: BoxStats = { q1: ccQ1, med: ccMed, q3: ccQ3, lo: ccLo, hi: ccHi, out: ccOut };

export default function App() {
  return (
    <div style={{ position: 'absolute', left: 0, top: 0, width: 617, height: 951, background: '#fff', overflow: 'hidden' }}>
      {/* A */}
      <ChartBox rect={{ L: 54, T: 1, R: 190, B: 217, yw: 30, xh: 6 }} make={() => boxConfig(umiStats, 2.589, 4.243, umiTicks, fmt1, 30, false, 6)} />
      <ChartBox rect={{ L: 54, T: 232, R: 190, B: 449, yw: 30, xh: 52 }} make={() => boxConfig(mitoStats, -0.0158, 0.318, mitoTicks, fmt1, 30, true, 52)} />
      {/* B */}
      <ChartBox rect={{ L: 254, T: 1, R: 388, B: 217, yw: 30, xh: 6 }} make={() => boxConfig(melStats, -1.239, 3.457, melTicks, fmt0, 30, false, 6)} />
      <ChartBox rect={{ L: 442, T: 1, R: 579, B: 217, yw: 30, xh: 6 }} make={() => boxConfig(ap1Stats, -1.292, 4.438, ap1Ticks, fmt0, 30, false, 6)} />
      <ChartBox rect={{ L: 254, T: 232, R: 391, B: 449, yw: 30, xh: 52 }} make={() => boxConfig(uprStats, -1.384, 7.27, uprTicks, fmt1, 30, true, 52)} />
      <ChartBox rect={{ L: 442, T: 232, R: 579, B: 449, yw: 30, xh: 52 }} make={() => boxConfig(ccStats, -1.352, 6.37, ccTicks, fmt0, 30, true, 52)} />
      {/* C */}
      <ChartBox rect={{ L: 58, T: 512, R: 180, B: 701, yw: 30, xh: 5 }} make={() => cConfig(true)} />
      <ChartBox rect={{ L: 58, T: 725, R: 180, B: 913, yw: 30, xh: 22 }} make={() => cConfig(false)} />
      {/* D */}
      <ChartBox rect={{ L: 255, T: 538, R: 407, B: 702, yw: 30, xh: 5, padT: 20 }} make={() => dConfig(true)} />
      <ChartBox rect={{ L: 256, T: 750, R: 408, B: 913, yw: 30, xh: 22 }} make={() => dConfig(false)} />
      {/* E */}
      <ChartBox rect={{ L: 442, T: 540, R: 610, B: 703, yw: 10, xh: 5, padR: 6 }} make={() => eConfig(true)} />
      <ChartBox rect={{ L: 443, T: 757, R: 610, B: 913, yw: 10, xh: 22, padR: 6 }} make={() => eConfig(false)} />

      {/* axis titles */}
      <Title x={20} y={113} rot={-90}>log<Sub>10</Sub>(total UMIs)</Title>
      <Title x={17} y={333} rot={-90}>mitochondrial UMI fraction</Title>
      <Title x={217} y={113} rot={-90}>melanin signature score</Title>
      <Title x={413} y={115} rot={-90}>AP1 TF signature score</Title>
      <Title x={217} y={330} rot={-90}>UPR signature score</Title>
      <Title x={413} y={333} rot={-90}>cell cycle signature score</Title>
      <Title x={23} y={610} rot={-90}>genes expressed</Title>
      <Title x={23} y={830} rot={-90}>genes expressed</Title>
      <Title x={120} y={940}>log<Sub>10</Sub>(total UMIs)</Title>
      <Title x={217} y={620} rot={-90}>-Log<Sub>10</Sub>(P-value)</Title>
      <Title x={217} y={828} rot={-90}>-Log<Sub>10</Sub>(P-value)</Title>
      <Title x={332} y={940}>Log<Sub>2</Sub> fold change</Title>
      <Title x={424} y={620} rot={-90}>cell density</Title>
      <Title x={426} y={840} rot={-90}>cell density</Title>
      <Title x={530} y={941}>Pseudotime</Title>

      {/* panel letters */}
      <Letter x={1} y={0}>A</Letter>
      <Letter x={201} y={1}>B</Letter>
      <Letter x={2} y={499}>C</Letter>
      <Letter x={193} y={499}>D</Letter>
      <Letter x={410} y={494}>E</Letter>
    </div>
  );
}
